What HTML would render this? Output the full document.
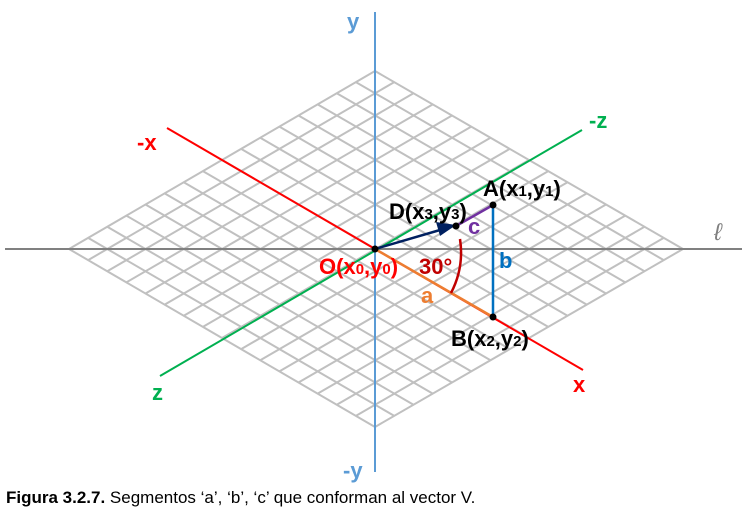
<!DOCTYPE html>
<html><head><meta charset="utf-8"><style>
html,body{margin:0;padding:0;background:#fff;}
svg{display:block;}
text{font-family:"Liberation Sans",Arial,sans-serif;}
.lb{font-weight:bold;font-size:22px;}
</style></head><body>
<svg id="fig" width="755" height="521" viewBox="0 0 755 521" xmlns="http://www.w3.org/2000/svg">
<g id="grid"></g>
<line x1="5" y1="249" x2="742" y2="249" stroke="#808080" stroke-width="2"/>
<line x1="375" y1="12" x2="375" y2="472" stroke="#5b9bd5" stroke-width="2"/>
<line x1="167" y1="128" x2="583" y2="370" stroke="#ff0000" stroke-width="2"/>
<line x1="160" y1="376" x2="582" y2="130" stroke="#00b050" stroke-width="2"/>
<line x1="375" y1="249" x2="493" y2="317" stroke="#ed7d31" stroke-width="2.5"/>
<line x1="493" y1="205" x2="493" y2="317" stroke="#0070c0" stroke-width="2.5"/>
<line x1="456" y1="226" x2="493" y2="205" stroke="#7030a0" stroke-width="2.5"/>
<line x1="375" y1="249" x2="440" y2="230" stroke="#002060" stroke-width="2.5"/>
<polygon points="456,225 436,222 440,236" fill="#002060"/>
<path d="M 460 239 A 88 88 0 0 1 451 293" fill="none" stroke="#c00000" stroke-width="2.5"/>
<circle cx="375" cy="249" r="3.5" fill="#000"/>
<circle cx="493" cy="205" r="3.5" fill="#000"/>
<circle cx="493" cy="317" r="3.5" fill="#000"/>
<circle cx="456" cy="226" r="3.5" fill="#000"/>
<text class="lb" x="347" y="29" fill="#5b9bd5">y</text>
<text class="lb" x="343" y="478" fill="#5b9bd5">-y</text>
<text class="lb" x="137" y="150" fill="#ff0000">-x</text>
<text class="lb" x="573" y="392" fill="#ff0000">x</text>
<text class="lb" x="589" y="128" fill="#00b050">-z</text>
<text class="lb" x="152" y="400" fill="#00b050">z</text>
<text x="714" y="240" font-size="24" font-style="italic" fill="#808080" font-family="Liberation Serif,serif">ℓ</text>
<text class="lb" x="319" y="274" fill="#ff0000">O(x<tspan font-size="15">0</tspan>,y<tspan font-size="15">0</tspan>)</text>
<text class="lb" x="419" y="274" fill="#c00000">30°</text>
<text class="lb" x="421" y="303" fill="#ed7d31">a</text>
<text class="lb" x="499" y="268" fill="#0070c0">b</text>
<text class="lb" x="468" y="234" fill="#7030a0">c</text>
<text class="lb" x="483" y="196" fill="#000">A(x<tspan font-size="15">1</tspan>,y<tspan font-size="15">1</tspan>)</text>
<text class="lb" x="389" y="219" fill="#000">D(x<tspan font-size="15">3</tspan>,y<tspan font-size="15">3</tspan>)</text>
<text class="lb" x="451" y="346" fill="#000">B(x<tspan font-size="15">2</tspan>,y<tspan font-size="15">2</tspan>)</text>
<text x="6" y="503" font-size="17" fill="#000"><tspan font-weight="bold">Figura 3.2.7.</tspan> Segmentos ‘a’, ‘b’, ‘c’ que conforman al vector V.</text>
</svg>
<script>
var gridDivisions = [16];
var L={x:69,y:249},T={x:375,y:71},R={x:683,y:249},B={x:375,y:427};
var g=document.getElementById('grid');
var n=gridDivisions[0];
function ln(x1,y1,x2,y2){
  var e=document.createElementNS('http://www.w3.org/2000/svg','line');
  e.setAttribute('x1',x1);e.setAttribute('y1',y1);e.setAttribute('x2',x2);e.setAttribute('y2',y2);
  e.setAttribute('stroke','#c0c0c0');e.setAttribute('stroke-width','2');
  
  
  g.appendChild(e);
}
for(var i=0;i<=n;i++){
  var t=i/n;
  ln(L.x+(B.x-L.x)*t, L.y+(B.y-L.y)*t, T.x+(R.x-T.x)*t, T.y+(R.y-T.y)*t);
  ln(L.x+(T.x-L.x)*t, L.y+(T.y-L.y)*t, B.x+(R.x-B.x)*t, B.y+(R.y-B.y)*t);
}
</script>
</body></html>
